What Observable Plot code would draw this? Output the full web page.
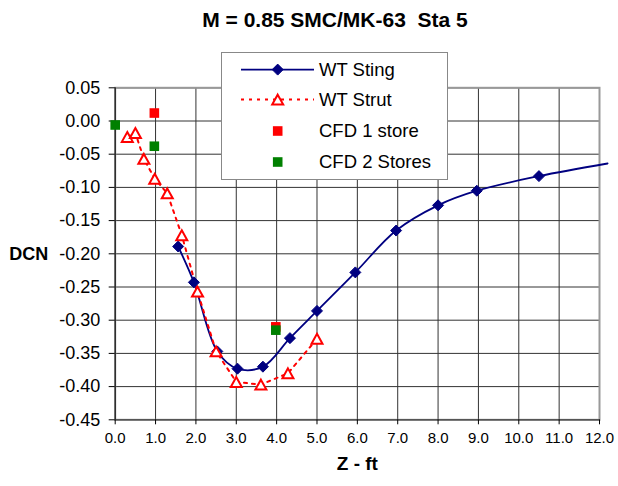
<!DOCTYPE html>
<html><head><meta charset="utf-8">
<script src="https://cdn.jsdelivr.net/npm/d3@7"></script>
<script src="https://cdn.jsdelivr.net/npm/@observablehq/plot@0.6"></script>
<style>
body{margin:0;background:#fff;font-family:"Liberation Sans",Arial,sans-serif;}
#wrap{position:relative;width:618px;height:486px;overflow:hidden;}
#chart{position:absolute;left:0;top:0;}
#title{position:absolute;left:0;width:670px;top:8px;text-align:center;font-weight:bold;font-size:21px;white-space:pre;color:#000;}
#legend{position:absolute;left:221px;top:52px;width:225px;height:126px;background:#fff;border:1.5px solid #888;}
</style></head><body>
<div id="wrap"><div id="chart"></div><div id="title">M = 0.85 SMC/MK-63  Sta 5</div><div id="legend"></div></div>
<script>
// ---- data ----
const stingZ   = [1.56, 1.95, 2.53, 3.03, 3.66, 4.33, 5.0, 5.95, 6.96, 8.0, 8.96, 10.5, 12.2];
const stingDCN = [-0.189, -0.243, -0.347, -0.373, -0.370, -0.327, -0.286, -0.228, -0.165, -0.127, -0.105, -0.083, -0.064];
const strutZ   = [0.3, 0.5, 0.71, 0.98, 1.29, 1.65, 2.04, 2.5, 3.0, 3.61, 4.28, 5.0];
const strutDCN = [-0.024, -0.018, -0.057, -0.087, -0.109, -0.172, -0.257, -0.347, -0.393, -0.397, -0.380, -0.328];
const cfd1Z    = [0.97, 3.98];
const cfd1DCN  = [0.012, -0.310];
const cfd2Z    = [0.0, 0.97, 3.98];
const cfd2DCN  = [-0.006, -0.038, -0.315];
const xTicks = [0,1,2,3,4,5,6,7,8,9,10,11,12];
const yTicks = [-0.45,-0.40,-0.35,-0.30,-0.25,-0.20,-0.15,-0.10,-0.05,0.00,0.05];
const seriesNames = ["WT Sting", "WT Strut", "CFD 1 store", "CFD 2 Stores"];

const zip = (xs, ys) => xs.map((x, i) => ({z: x, dcn: ys[i]}));
const sting = zip(stingZ, stingDCN);
const strut = zip(strutZ, strutDCN);
const cfd1 = zip(cfd1Z, cfd1DCN);
const cfd2 = zip(cfd2Z, cfd2DCN);

// custom Excel-like markers
const diamondSym = {draw(c, s){ const r = Math.sqrt(s/Math.PI); c.moveTo(0,-r); c.lineTo(r,0); c.lineTo(0,r); c.lineTo(-r,0); c.closePath(); }};
const triSym = {draw(c, s){ const r = Math.sqrt(s/Math.PI); c.moveTo(0,-r*0.9); c.lineTo(r,r*0.9); c.lineTo(-r,r*0.9); c.closePath(); }};
const sqSym = {draw(c, s){ const r = Math.sqrt(s/Math.PI); c.rect(-r,-r,2*r,2*r); }};

const NAVY = "#000080", RED = "#ff0000", GREEN = "#008000";

const chart = Plot.plot({
  width: 618, height: 486,
  marginLeft: 114.7, marginRight: 19, marginTop: 87.3, marginBottom: 66.7,
  style: {fontFamily: "Liberation Sans, Arial, sans-serif", background: "#fff", color: "#000"},
  x: {domain: [0, 12]},
  y: {domain: [-0.45, 0.05]},
  marks: [
    Plot.gridX(xTicks, {stroke: "#333", strokeOpacity: 1, strokeWidth: 1}),
    Plot.gridY(yTicks, {stroke: "#333", strokeOpacity: 1, strokeWidth: 1}),
    Plot.frame({stroke: "#999", strokeWidth: 2}),
    Plot.ruleX([0], {stroke: "#000", strokeWidth: 1}),
    Plot.ruleY([-0.45], {stroke: "#555", strokeWidth: 1.5}),
    Plot.axisX(xTicks, {tickFormat: d => d.toFixed(1), tickSize: 5, tickPadding: 8, fontSize: 15, label: null, stroke: "#000"}),
    Plot.axisY(yTicks, {tickFormat: d => d.toFixed(2), tickSize: 6, tickPadding: 9, fontSize: 18, label: null, stroke: "#000"}),
    Plot.text(["Z - ft"], {frameAnchor: "bottom", dy: 50, fontSize: 19, fontWeight: "bold", fill: "#000"}),
    Plot.text(["DCN"], {frameAnchor: "left", dx: -106, textAnchor: "start", fontSize: 18, fontWeight: "bold", fill: "#000"}),
    Plot.line(sting, {x: "z", y: "dcn", curve: "catmull-rom", stroke: NAVY, strokeWidth: 1.8}),
    Plot.line(strut, {x: "z", y: "dcn", stroke: RED, strokeWidth: 2, strokeDasharray: "3,5"}),
    Plot.dot(sting.filter(d => d.z <= 12), {x: "z", y: "dcn", symbol: diamondSym, r: 5.5, fill: NAVY, stroke: NAVY, strokeWidth: 1}),
    Plot.dot(strut, {x: "z", y: "dcn", symbol: triSym, r: 5.5, fill: "#fff", stroke: RED, strokeWidth: 2}),
    Plot.dot(cfd1, {x: "z", y: "dcn", symbol: sqSym, r: 4.8, fill: RED}),
    Plot.dot(cfd2, {x: "z", y: "dcn", symbol: sqSym, r: 4.8, fill: GREEN})
  ]
});
document.getElementById("chart").appendChild(chart);

// legend
const ns = "http://www.w3.org/2000/svg";
const lg = d3.select("#legend").append("svg").attr("width", 225).attr("height", 126);
const rows = [
  {name: seriesNames[0], line: {stroke: NAVY, dash: null, w: 1.8}, sym: diamondSym, r: 5.5, fill: NAVY, stroke: NAVY, sw: 1},
  {name: seriesNames[1], line: {stroke: RED, dash: "3,5", w: 2}, sym: triSym, r: 5.5, fill: "#fff", stroke: RED, sw: 2},
  {name: seriesNames[2], line: null, sym: sqSym, r: 4.8, fill: RED, stroke: "none", sw: 0},
  {name: seriesNames[3], line: null, sym: sqSym, r: 4.8, fill: GREEN, stroke: "none", sw: 0}
];
const rowY = [16.6, 46.6, 78, 109];
rows.forEach((row, i) => {
  const g = lg.append("g").attr("transform", `translate(0,${rowY[i]})`);
  if (row.line) g.append("line").attr("x1", 19).attr("x2", 92).attr("y1", 0).attr("y2", 0)
    .attr("stroke", row.line.stroke).attr("stroke-width", row.line.w).attr("stroke-dasharray", row.line.dash);
  g.append("path").attr("transform", "translate(55.7,0)")
    .attr("d", d3.symbol(row.sym, Math.PI * row.r * row.r)())
    .attr("fill", row.fill).attr("stroke", row.stroke).attr("stroke-width", row.sw);
  g.append("text").attr("x", 97).attr("y", 0).attr("dy", "0.35em")
    .attr("font-size", 18.5).attr("font-family", "Liberation Sans, Arial, sans-serif").text(row.name);
});
</script>
</body></html>
